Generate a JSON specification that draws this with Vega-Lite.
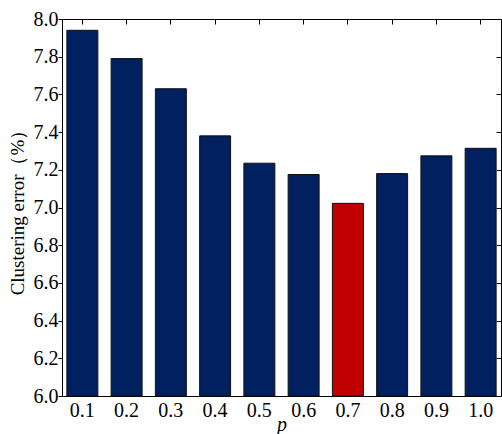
{
  "$schema": "https://vega.github.io/schema/vega-lite/v6.json",
  "width": 439,
  "height": 377,
  "autosize": "none",
  "padding": {"left": 62, "top": 19, "right": 1, "bottom": 38},
  "background": "white",
  "config": {
    "view": {"stroke": "#000", "strokeWidth": 1},
    "font": "Liberation Serif",
    "axis": {"labelFont": "Liberation Serif", "titleFont": "Liberation Serif", "labelColor": "#000", "titleColor": "#000", "tickColor": "#000", "domain": false, "grid": false, "titleFontWeight": "normal"}
  },
  "data": {"values": [
    {"p": "0.1", "err": 7.94, "best": "no"},
    {"p": "0.2", "err": 7.79, "best": "no"},
    {"p": "0.3", "err": 7.63, "best": "no"},
    {"p": "0.4", "err": 7.38, "best": "no"},
    {"p": "0.5", "err": 7.235, "best": "no"},
    {"p": "0.6", "err": 7.175, "best": "no"},
    {"p": "0.7", "err": 7.022, "best": "yes"},
    {"p": "0.8", "err": 7.18, "best": "no"},
    {"p": "0.9", "err": 7.274, "best": "no"},
    {"p": "1.0", "err": 7.314, "best": "no"}
  ]},
  "layer": [
    {
      "mark": {"type": "bar", "stroke": "#111", "strokeWidth": 1},
      "encoding": {
        "x": {"field": "p", "type": "ordinal", "sort": null,
          "scale": {"paddingInner": 0.3, "paddingOuter": 0.11},
          "axis": {"orient": "bottom", "title": "p", "titleFontStyle": "italic", "titleFontSize": 20, "titleY": 34, "titleBaseline": "alphabetic", "labelFontSize": 20, "labelAngle": 0, "tickSize": 0, "labelPadding": 4}},
        "y": {"field": "err", "type": "quantitative",
          "scale": {"domain": [6, 8], "nice": false, "zero": false},
          "axis": {"orient": "left", "title": "Clustering error（%）", "titleFontSize": 19, "titlePadding": 6, "labelFontSize": 20, "values": [6, 6.2, 6.4, 6.6, 6.8, 7, 7.2, 7.4, 7.6, 7.8, 8], "format": ".1f", "tickSize": 4, "labelPadding": 0}},
        "y2": {"datum": 6},
        "color": {"field": "best", "type": "nominal", "scale": {"domain": ["no", "yes"], "range": ["#002060", "#C00000"]}, "legend": null}
      }
    },
    {
      "mark": {"type": "tick", "opacity": 0},
      "encoding": {
        "x": {"field": "p", "type": "ordinal", "sort": null,
          "axis": {"orient": "top", "title": null, "labels": false, "tickSize": -5}},
        "y": {"field": "err", "type": "quantitative",
          "axis": {"orient": "right", "title": null, "labels": false, "values": [6.2, 6.4, 6.6, 6.8, 7, 7.2, 7.4, 7.6, 7.8], "tickSize": -5}}
      }
    }
  ],
  "resolve": {"axis": {"x": "independent", "y": "independent"}}
}
